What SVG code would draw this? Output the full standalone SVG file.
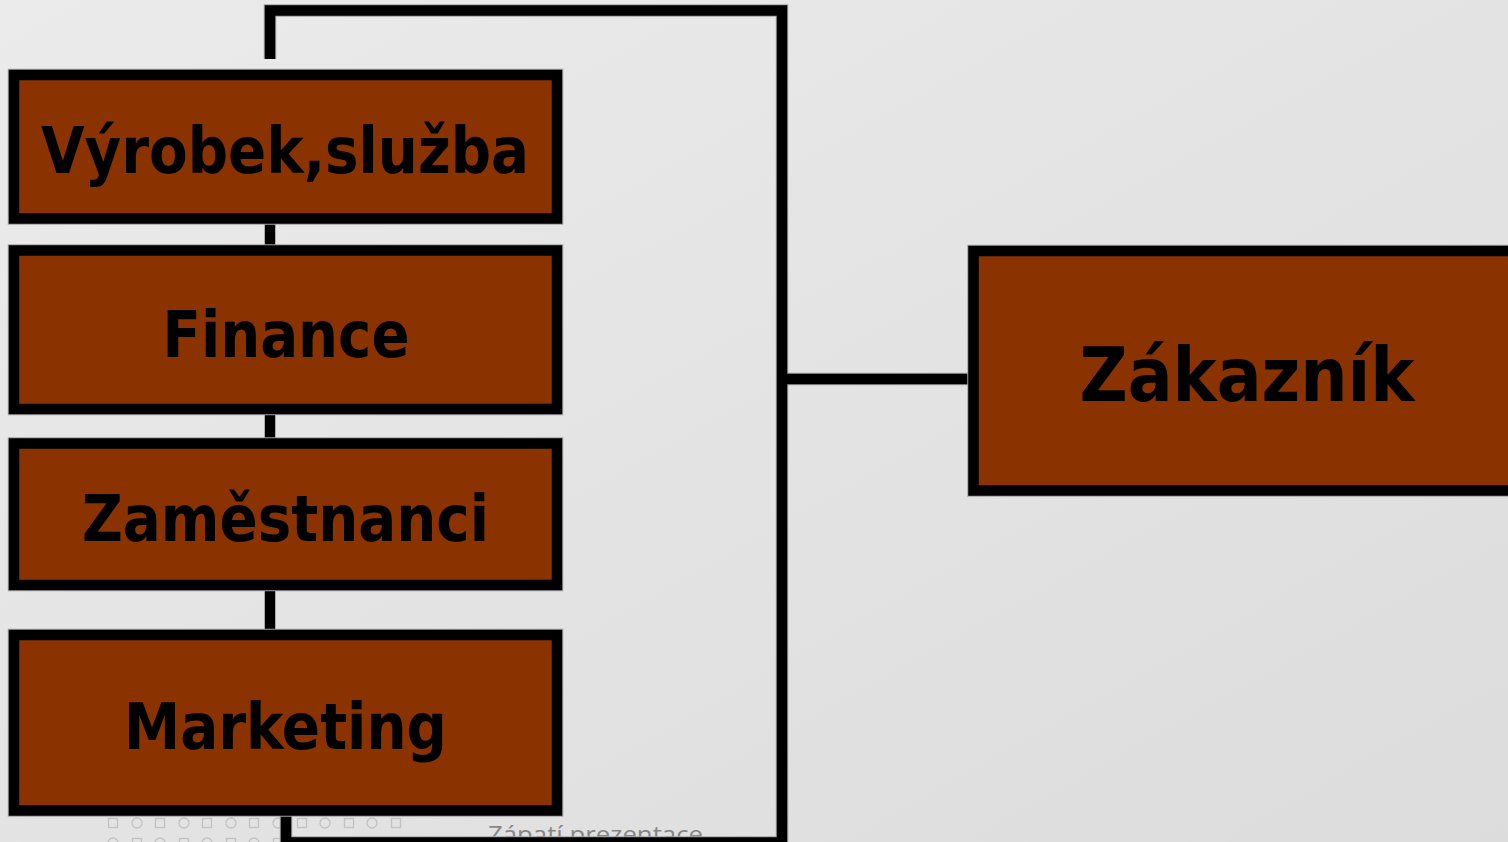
<svg xmlns="http://www.w3.org/2000/svg" width="1508" height="842" viewBox="0 0 1508 842">
  <defs>
    <linearGradient id="bg" x1="0" y1="0" x2="1" y2="1">
      <stop offset="0" stop-color="#ebebeb"/>
      <stop offset="1" stop-color="#dcdcdc"/>
    </linearGradient>
    <style>
      .lnout { fill: none; stroke: #a3a3a3; stroke-width: 12.5; stroke-linejoin: miter; stroke-linecap: butt; }
      .ln { fill: none; stroke: #000; stroke-width: 10.5; stroke-linejoin: miter; stroke-linecap: butt; }
      .boxout { fill: none; stroke: #a3a3a3; stroke-width: 12.5; }
      .box { fill: #8a3300; stroke: #000; stroke-width: 10.5; }
      .lbl { font-family: "DejaVu Sans Condensed", "DejaVu Sans", Verdana, sans-serif; font-weight: bold; fill: #000; text-anchor: middle; }
      .deco { fill: none; stroke: #c2c2c2; stroke-width: 1.3; }
      .foot { font-family: "Open Sans", "Noto Sans", "DejaVu Sans", sans-serif; font-size: 23px; fill: #878787; }
    </style>
  </defs>
  <rect x="0" y="0" width="1508" height="842" fill="url(#bg)"/>

  <g id="footer-deco">
    <rect class="deco" x="108.5" y="818.5" width="9" height="9"/>
    <circle class="deco" cx="137" cy="823" r="5"/>
    <rect class="deco" x="155.5" y="818.5" width="9" height="9"/>
    <circle class="deco" cx="184" cy="823" r="5"/>
    <rect class="deco" x="202.5" y="818.5" width="9" height="9"/>
    <circle class="deco" cx="231" cy="823" r="5"/>
    <rect class="deco" x="249.5" y="818.5" width="9" height="9"/>
    <circle class="deco" cx="278" cy="823" r="5"/>
    <rect class="deco" x="297.5" y="818.5" width="9" height="9"/>
    <circle class="deco" cx="325" cy="823" r="5"/>
    <rect class="deco" x="344.5" y="818.5" width="9" height="9"/>
    <circle class="deco" cx="372" cy="823" r="5"/>
    <rect class="deco" x="391.5" y="818.5" width="9" height="9"/>
    <circle class="deco" cx="113" cy="843" r="5"/>
    <rect class="deco" x="132.5" y="838.5" width="9" height="9"/>
    <circle class="deco" cx="160" cy="843" r="5"/>
    <rect class="deco" x="179.5" y="838.5" width="9" height="9"/>
    <circle class="deco" cx="207" cy="843" r="5"/>
    <rect class="deco" x="226.5" y="838.5" width="9" height="9"/>
    <circle class="deco" cx="254" cy="843" r="5"/>
    <rect class="deco" x="273.5" y="838.5" width="9" height="9"/>
  </g>
  <text id="footer-text" class="foot" x="488" y="843" textLength="215" lengthAdjust="spacingAndGlyphs">Zápatí prezentace</text>

  <g id="connectors">
    <path class="lnout" d="M270 59 V10.5 H782 V850"/>
    <path class="lnout" d="M286 812 V842.5 H782"/>
    <path class="lnout" d="M782 379 H973"/>
    <path class="ln" d="M270 59 V10.5 H782 V850"/>
    <path class="ln" d="M286 812 V842.5 H782"/>
    <path class="ln" d="M782 379 H973"/>
    <path class="ln" d="M270 218 V251"/>
    <path class="ln" d="M270 409 V444"/>
    <path class="ln" d="M270 585 V636"/>
  </g>

  <g id="node-vyrobek">
    <rect class="boxout" x="14" y="75" width="543" height="143.5"/>
    <rect class="box" x="14" y="75" width="543" height="143.5"/>
    <text class="lbl" x="285" y="173" font-size="64" textLength="488" lengthAdjust="spacingAndGlyphs">Výrobek,služba</text>
  </g>
  <g id="node-finance">
    <rect class="boxout" x="14" y="250.5" width="543" height="158.5"/>
    <rect class="box" x="14" y="250.5" width="543" height="158.5"/>
    <text class="lbl" x="286" y="357" font-size="64" textLength="247" lengthAdjust="spacingAndGlyphs">Finance</text>
  </g>
  <g id="node-zamestnanci">
    <rect class="boxout" x="14" y="443.5" width="543" height="141.5"/>
    <rect class="box" x="14" y="443.5" width="543" height="141.5"/>
    <text class="lbl" x="285.5" y="541" font-size="64" textLength="407" lengthAdjust="spacingAndGlyphs">Zaměstnanci</text>
  </g>
  <g id="node-marketing">
    <rect class="boxout" x="14" y="635" width="543" height="175.5"/>
    <rect class="box" x="14" y="635" width="543" height="175.5"/>
    <text class="lbl" x="285.5" y="749" font-size="64" textLength="323" lengthAdjust="spacingAndGlyphs">Marketing</text>
  </g>
  <g id="node-zakaznik">
    <rect class="boxout" x="973.5" y="251" width="600" height="239.5"/>
    <rect class="box" x="973.5" y="251" width="600" height="239.5"/>
    <text class="lbl" x="1247" y="401" font-size="75" textLength="335" lengthAdjust="spacingAndGlyphs">Zákazník</text>
  </g>
</svg>
